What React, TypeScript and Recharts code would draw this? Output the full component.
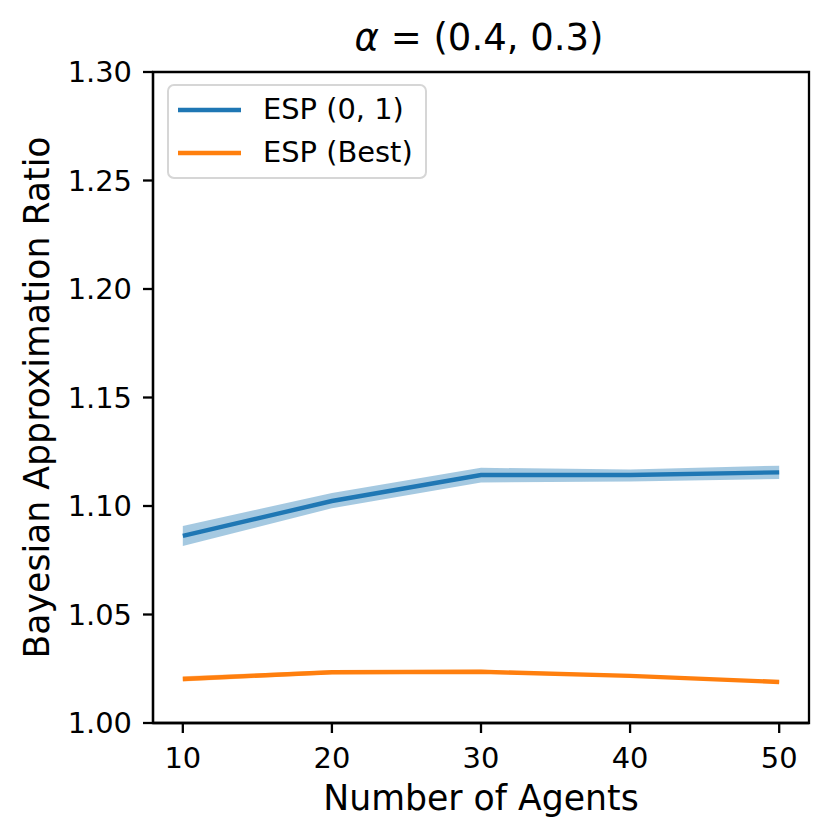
import React from 'react';
import { ComposedChart, Line, Area, XAxis, YAxis, ReferenceArea, Legend, Label } from 'recharts';

const FONT = '"DejaVu Sans", sans-serif';
const BLUE = '#1f77b4';
const ORANGE = '#ff7f0e';

const agents = [10, 20, 30, 40, 50];
const esp01Mean = [1.0862, 1.1023, 1.1143, 1.1143, 1.1155];
const esp01Low = [1.0816, 1.0990, 1.1108, 1.1113, 1.1124];
const esp01High = [1.0908, 1.1060, 1.1176, 1.1168, 1.1186];
const bestMean = [1.0203, 1.0234, 1.0236, 1.0217, 1.0189];
const bestLow = [1.0191, 1.0225, 1.0227, 1.0211, 1.0184];
const bestHigh = [1.0215, 1.0243, 1.0245, 1.0223, 1.0194];

const xTicks = [10, 20, 30, 40, 50];
const yTicks = [1.0, 1.05, 1.1, 1.15, 1.2, 1.25, 1.3];
const seriesNames = ['ESP (0, 1)', 'ESP (Best)'];

const data = agents.map((a, i) => ({
  agents: a,
  esp01: esp01Mean[i],
  esp01Band: [esp01Low[i], esp01High[i]],
  best: bestMean[i],
  bestBand: [bestLow[i], bestHigh[i]],
}));

const LegendBox = () => (
  <div
    style={{
      boxSizing: 'border-box',
      width: 260,
      height: 95,
      border: '2.3px solid #d6d6d6',
      borderRadius: 7,
      background: 'rgba(255,255,255,0.8)',
      padding: '2px 0 0 9px',
      fontFamily: FONT,
      fontSize: 28.9,
      color: '#000',
    }}
  >
    {seriesNames.map((name, i) => (
      <div key={name} style={{ display: 'flex', alignItems: 'center', height: 43 }}>
        <svg width={63} height={8} style={{ display: 'block' }}>
          <line x1={0} y1={4} x2={63} y2={4} stroke={i === 0 ? BLUE : ORANGE} strokeWidth={4.4} />
        </svg>
        <span style={{ marginLeft: 22, lineHeight: 1, whiteSpace: 'nowrap' }}>{name}</span>
      </div>
    ))}
  </div>
);

export default function App() {
  const tickStyle = { fontSize: 28.9, fill: '#000', fontFamily: FONT };
  const lineStyle = { stroke: '#000', strokeWidth: 2.3 };
  return (
    <div style={{ position: 'absolute', left: 0, top: 0, width: 832, height: 840, background: '#fff' }}>
      <div
        style={{
          position: 'absolute',
          left: 279,
          top: 18.5,
          width: 400,
          textAlign: 'center',
          fontFamily: FONT,
          fontSize: 37,
          lineHeight: 1,
          color: '#000',
          whiteSpace: 'pre',
        }}
      >
        <span style={{ fontStyle: 'italic' }}>α</span>
        {' = (0.4, 0.3)'}
      </div>
      <ComposedChart width={832} height={840} data={data} margin={{ top: 72, right: 23, bottom: 0, left: 0 }}>
        <XAxis
          dataKey="agents"
          type="number"
          domain={[8, 52]}
          ticks={xTicks}
          allowDataOverflow
          height={117}
          tickSize={10}
          tickMargin={14}
          tick={tickStyle}
          axisLine={lineStyle}
          tickLine={lineStyle}
        >
          <Label
            content={() => (
              <text x={481} y={810} textAnchor="middle" fontFamily={FONT} fontSize={34.7} fill="#000">
                Number of Agents
              </text>
            )}
          />
        </XAxis>
        <YAxis
          type="number"
          domain={[1.0, 1.3]}
          ticks={yTicks}
          allowDataOverflow
          width={153}
          tickSize={10}
          tickMargin={11}
          tick={tickStyle}
          tickFormatter={(v: number) => v.toFixed(2)}
          axisLine={lineStyle}
          tickLine={lineStyle}
        >
          <Label
            content={() => (
              <text
                x={49}
                y={397.5}
                transform="rotate(-90 49 397.5)"
                textAnchor="middle"
                fontFamily={FONT}
                fontSize={34.7}
                fill="#000"
              >
                Bayesian Approximation Ratio
              </text>
            )}
          />
        </YAxis>
        <ReferenceArea x1={8} x2={52} y1={1.0} y2={1.3} fill="none" stroke="#000" strokeWidth={2.3} ifOverflow="visible" />
        <Area
          type="linear"
          dataKey="esp01Band"
          stroke="none"
          fill={BLUE}
          fillOpacity={0.4}
          isAnimationActive={false}
          legendType="none"
          activeDot={false}
        />
        <Area
          type="linear"
          dataKey="bestBand"
          stroke="none"
          fill={ORANGE}
          fillOpacity={0.4}
          isAnimationActive={false}
          legendType="none"
          activeDot={false}
        />
        <Line type="linear" dataKey="esp01" name={seriesNames[0]} stroke={BLUE} strokeWidth={4.4} dot={false} isAnimationActive={false} />
        <Line type="linear" dataKey="best" name={seriesNames[1]} stroke={ORANGE} strokeWidth={4.4} dot={false} isAnimationActive={false} />
        <Legend
          layout="vertical"
          align="center"
          verticalAlign="middle"
          wrapperStyle={{ left: 167, top: 84, width: 260, height: 95 }}
          content={() => <LegendBox />}
        />
      </ComposedChart>
    </div>
  );
}
